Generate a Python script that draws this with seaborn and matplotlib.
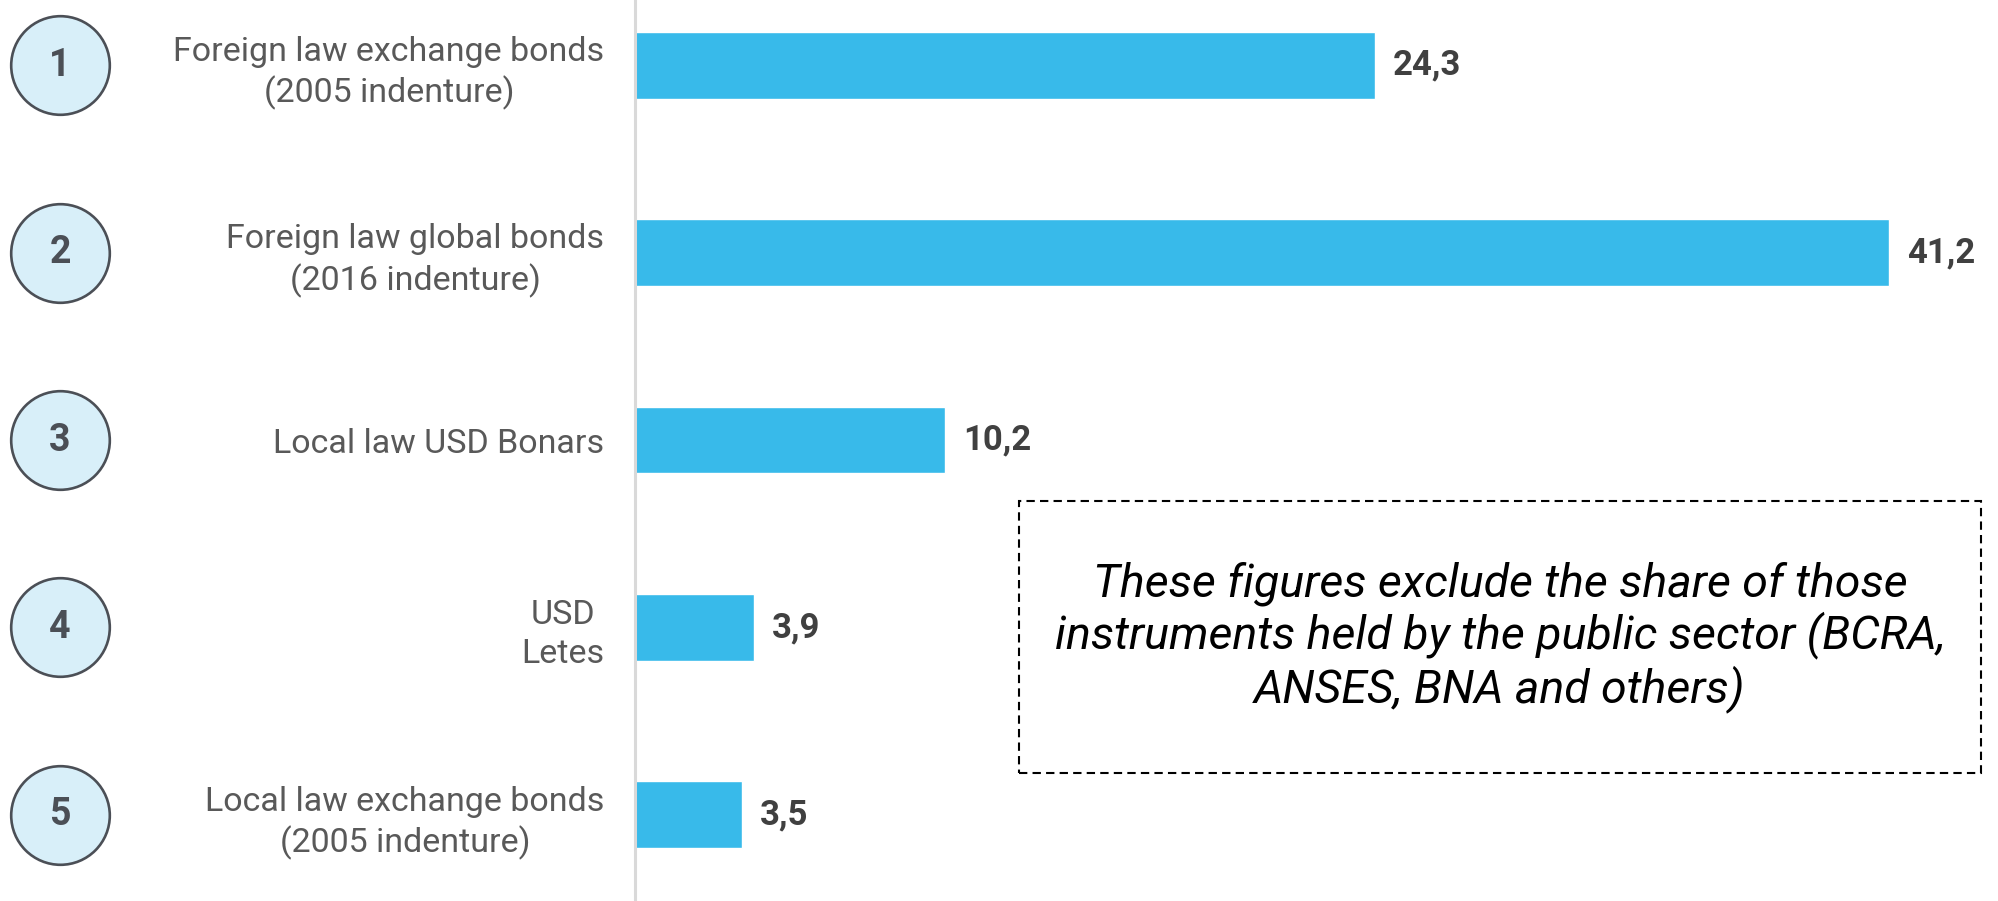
import pandas as pd
import numpy as np
import matplotlib.pyplot as plt
import matplotlib.transforms as mtransforms
from matplotlib.patches import Rectangle
import seaborn as sns

# data
ranks = ["1", "2", "3", "4", "5"]
instruments = [
    "Foreign law exchange bonds\n(2005 indenture)",
    "Foreign law global bonds\n(2016 indenture)",
    "Local law USD Bonars",
    "USD\nLetes",
    "Local law exchange bonds\n(2005 indenture)",
]
amounts = [24.3, 41.2, 10.2, 3.9, 3.5]
note = ("These figures exclude the share of those\n"
        "instruments held by the public sector (BCRA,\n"
        "ANSES, BNA and others)")

df = pd.DataFrame({"instrument": instruments, "amount": amounts})

sns.set_style("white")
plt.rcParams['font.family'] = ['Roboto', 'DejaVu Sans']

fig = plt.figure(figsize=(19.98, 9.01), dpi=100)
ax = fig.add_axes([635 / 1998, 0, 1 - 635 / 1998, 1])

sns.barplot(data=df, x="amount", y="instrument", orient="h",
            color="#38BAEA", width=0.357, saturation=1, ax=ax)

ax.set_xlim(0, 44.78)
ax.set_ylim(4.459, -0.347)
ax.set_xlabel(None)
ax.set_ylabel(None)
ax.set_xticks([])

for s in ["top", "right", "bottom"]:
    ax.spines[s].set_visible(False)
ax.spines["left"].set_color("#d9d9d9")
ax.spines["left"].set_linewidth(2.2)

ax.tick_params(axis="y", length=0, pad=22)
ax.set_yticks(range(len(instruments)))
ax.set_yticklabels(instruments, fontsize=24.5, color="#595959",
                   multialignment="center", linespacing=1.3)

# value labels
ax.bar_label(ax.containers[0],
             labels=[f"{v:.1f}".replace(".", ",") for v in amounts],
             padding=13, fontsize=25, fontweight="bold", color="#404040")

# numbered circles at the far left
trans = mtransforms.blended_transform_factory(fig.transFigure, ax.transData)
pos = np.arange(len(ranks))
ax.scatter([60 / 1998] * len(ranks), pos, s=71 ** 2, transform=trans,
           facecolor="#d8eff9", edgecolor="#4b4f56", linewidth=1.9,
           clip_on=False, zorder=5)
for i, r in enumerate(ranks):
    ax.text(60 / 1998, i, r, transform=trans, ha="center", va="center",
            fontsize=27, fontweight="bold", color="#4b4f56", zorder=6)

# dashed note box
box = Rectangle((1019 / 1998, 1 - 773 / 901), (1981 - 1019) / 1998,
                (773 - 501) / 901, transform=fig.transFigure, fill=False,
                edgecolor="black", linewidth=1.5, linestyle=(0, (4, 2.5)))
fig.add_artist(box)
fig.text(1500 / 1998, 1 - 637 / 901, note, ha="center", va="center",
         fontsize=33.5, fontstyle="italic", color="black", linespacing=1.15)

plt.savefig("out.png", dpi=100)
